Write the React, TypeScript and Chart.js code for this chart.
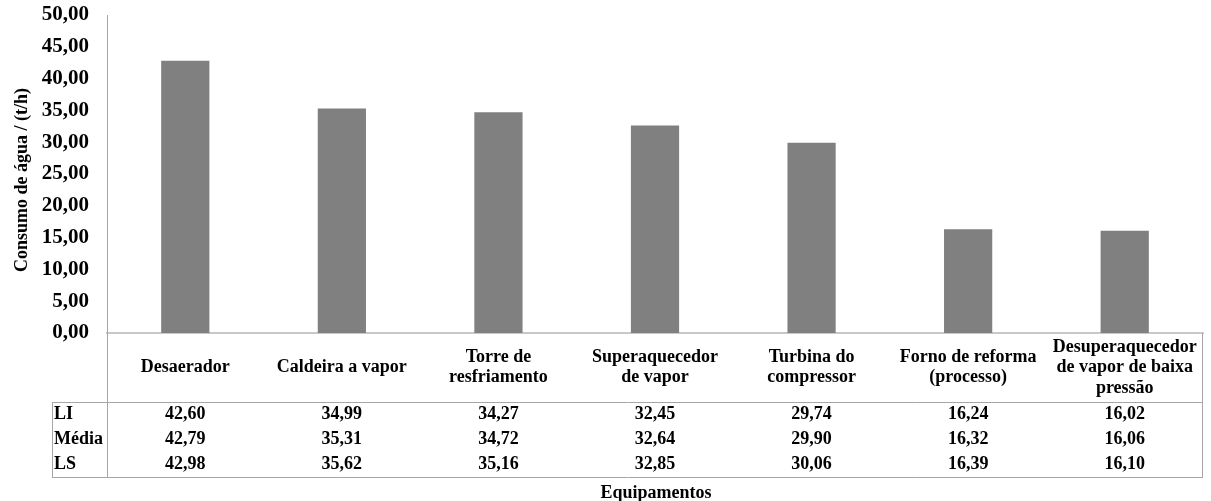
import React, { useEffect, useRef } from "react";
import { Chart, registerables } from "chart.js";

Chart.register(...registerables);

const categories: (string | string[])[] = [
  "Desaerador",
  "Caldeira a vapor",
  ["Torre de", "resfriamento"],
  ["Superaquecedor", "de vapor"],
  ["Turbina do", "compressor"],
  ["Forno de reforma", "(processo)"],
  ["Desuperaquecedor", "de vapor de baixa", "pressão"],
];
const liValues = [42.6, 34.99, 34.27, 32.45, 29.74, 16.24, 16.02];
const mediaValues = [42.79, 35.31, 34.72, 32.64, 29.9, 16.32, 16.06];
const lsValues = [42.98, 35.62, 35.16, 32.85, 30.06, 16.39, 16.1];
const rowLabels = ["LI", "Média", "LS"];
const yTitle = "Consumo de água / (t/h)";
const xTitle = "Equipamentos";

const FONT = "'Liberation Serif', 'Times New Roman', serif";
const fmt = (v: number) => v.toFixed(2).replace(".", ",");

const tablePlugin = {
  id: "dataTable",
  afterDraw(chart: any) {
    const { ctx, chartArea } = chart;
    const xs = chart.scales.x;
    const left = chartArea.left;
    const right = chartArea.right;
    const top = chartArea.bottom;
    const headerH = 69;
    const rowH = 25;
    const tableLeft = 52;
    const sepY = top + headerH;
    const bottomY = sepY + rowH * 3;

    ctx.save();
    ctx.strokeStyle = "#a6a6a6";
    ctx.lineWidth = 1;
    ctx.beginPath();
    ctx.moveTo(Math.round(left) + 0.5, top);
    ctx.lineTo(Math.round(left) + 0.5, bottomY);
    ctx.moveTo(Math.round(right) - 0.5, top);
    ctx.lineTo(Math.round(right) - 0.5, bottomY);
    ctx.moveTo(tableLeft + 0.5, sepY);
    ctx.lineTo(tableLeft + 0.5, bottomY);
    ctx.moveTo(tableLeft, Math.round(sepY) + 0.5);
    ctx.lineTo(right, Math.round(sepY) + 0.5);
    ctx.moveTo(tableLeft, Math.round(bottomY) + 0.5);
    ctx.lineTo(right, Math.round(bottomY) + 0.5);
    ctx.stroke();

    ctx.fillStyle = "#000";
    ctx.textBaseline = "middle";
    ctx.font = `bold 18px ${FONT}`;
    ctx.textAlign = "center";
    const headerMid = top + headerH / 2;
    const lh = 20.5;
    categories.forEach((c, i) => {
      const lines = Array.isArray(c) ? c : [c];
      const x = xs.getPixelForValue(i);
      const y0 = headerMid - ((lines.length - 1) * lh) / 2;
      lines.forEach((ln, j) => ctx.fillText(ln, x, y0 + j * lh));
    });
    const rows = [liValues, mediaValues, lsValues];
    rows.forEach((vals, r) => {
      const y = sepY + rowH * r + rowH / 2;
      ctx.textAlign = "left";
      ctx.fillText(rowLabels[r], tableLeft + 2, y);
      ctx.textAlign = "center";
      vals.forEach((v, i) => ctx.fillText(fmt(v), xs.getPixelForValue(i), y));
    });

    // axis titles
    ctx.font = `bold 18px ${FONT}`;
    ctx.textAlign = "center";
    ctx.fillText(xTitle, (left + right) / 2 + 1, 493);

    ctx.save();
    ctx.translate(22, 180);
    ctx.rotate(-Math.PI / 2);
    ctx.font = `bold 18px ${FONT}`;
    ctx.fillText(yTitle, 0, 0);
    ctx.restore();
    ctx.restore();
  },
};

export default function App() {
  const ref = useRef<HTMLCanvasElement>(null);
  useEffect(() => {
    if (!ref.current) return;
    const chart = new Chart(ref.current, {
      type: "bar",
      data: {
        labels: categories as any,
        datasets: [
          {
            label: "Média",
            data: mediaValues,
            backgroundColor: "#808080",
            borderWidth: 0,
            categoryPercentage: 1,
            barPercentage: 0.308,
          },
        ],
      },
      options: {
        animation: false,
        responsive: false,
        devicePixelRatio: 1,
        layout: { padding: { left: 0, right: 8, top: 15, bottom: 0 } },
        plugins: { legend: { display: false }, tooltip: { enabled: false } },
        scales: {
          x: {
            grid: { display: false, drawTicks: false },
            ticks: { display: false },
            border: { display: true, color: "#c8c8c8", width: 2 },
            afterFit: (s: any) => {
              s.height = 168;
              s.paddingLeft = 0;
              s.paddingRight = 0;
            },
          },
          y: {
            min: 0,
            max: 50,
            grid: { display: false, drawTicks: false },
            border: { display: true, color: "#a6a6a6", width: 1 },
            ticks: {
              stepSize: 5,
              padding: 18,
              color: "#000",
              font: { family: FONT, size: 21, weight: "bold" },
              callback: (v: any) => fmt(Number(v)),
            },
            afterFit: (s: any) => {
              s.width = 107;
              s.paddingTop = 0;
              s.paddingBottom = 0;
            },
          },
        },
      },
      plugins: [tablePlugin],
    });
    return () => chart.destroy();
  }, []);
  return (
    <div style={{ position: "fixed", left: 0, top: 0, width: 1211, height: 501, background: "#fff" }}>
      <canvas ref={ref} width={1211} height={501} style={{ width: 1211, height: 501 }} />
    </div>
  );
}
